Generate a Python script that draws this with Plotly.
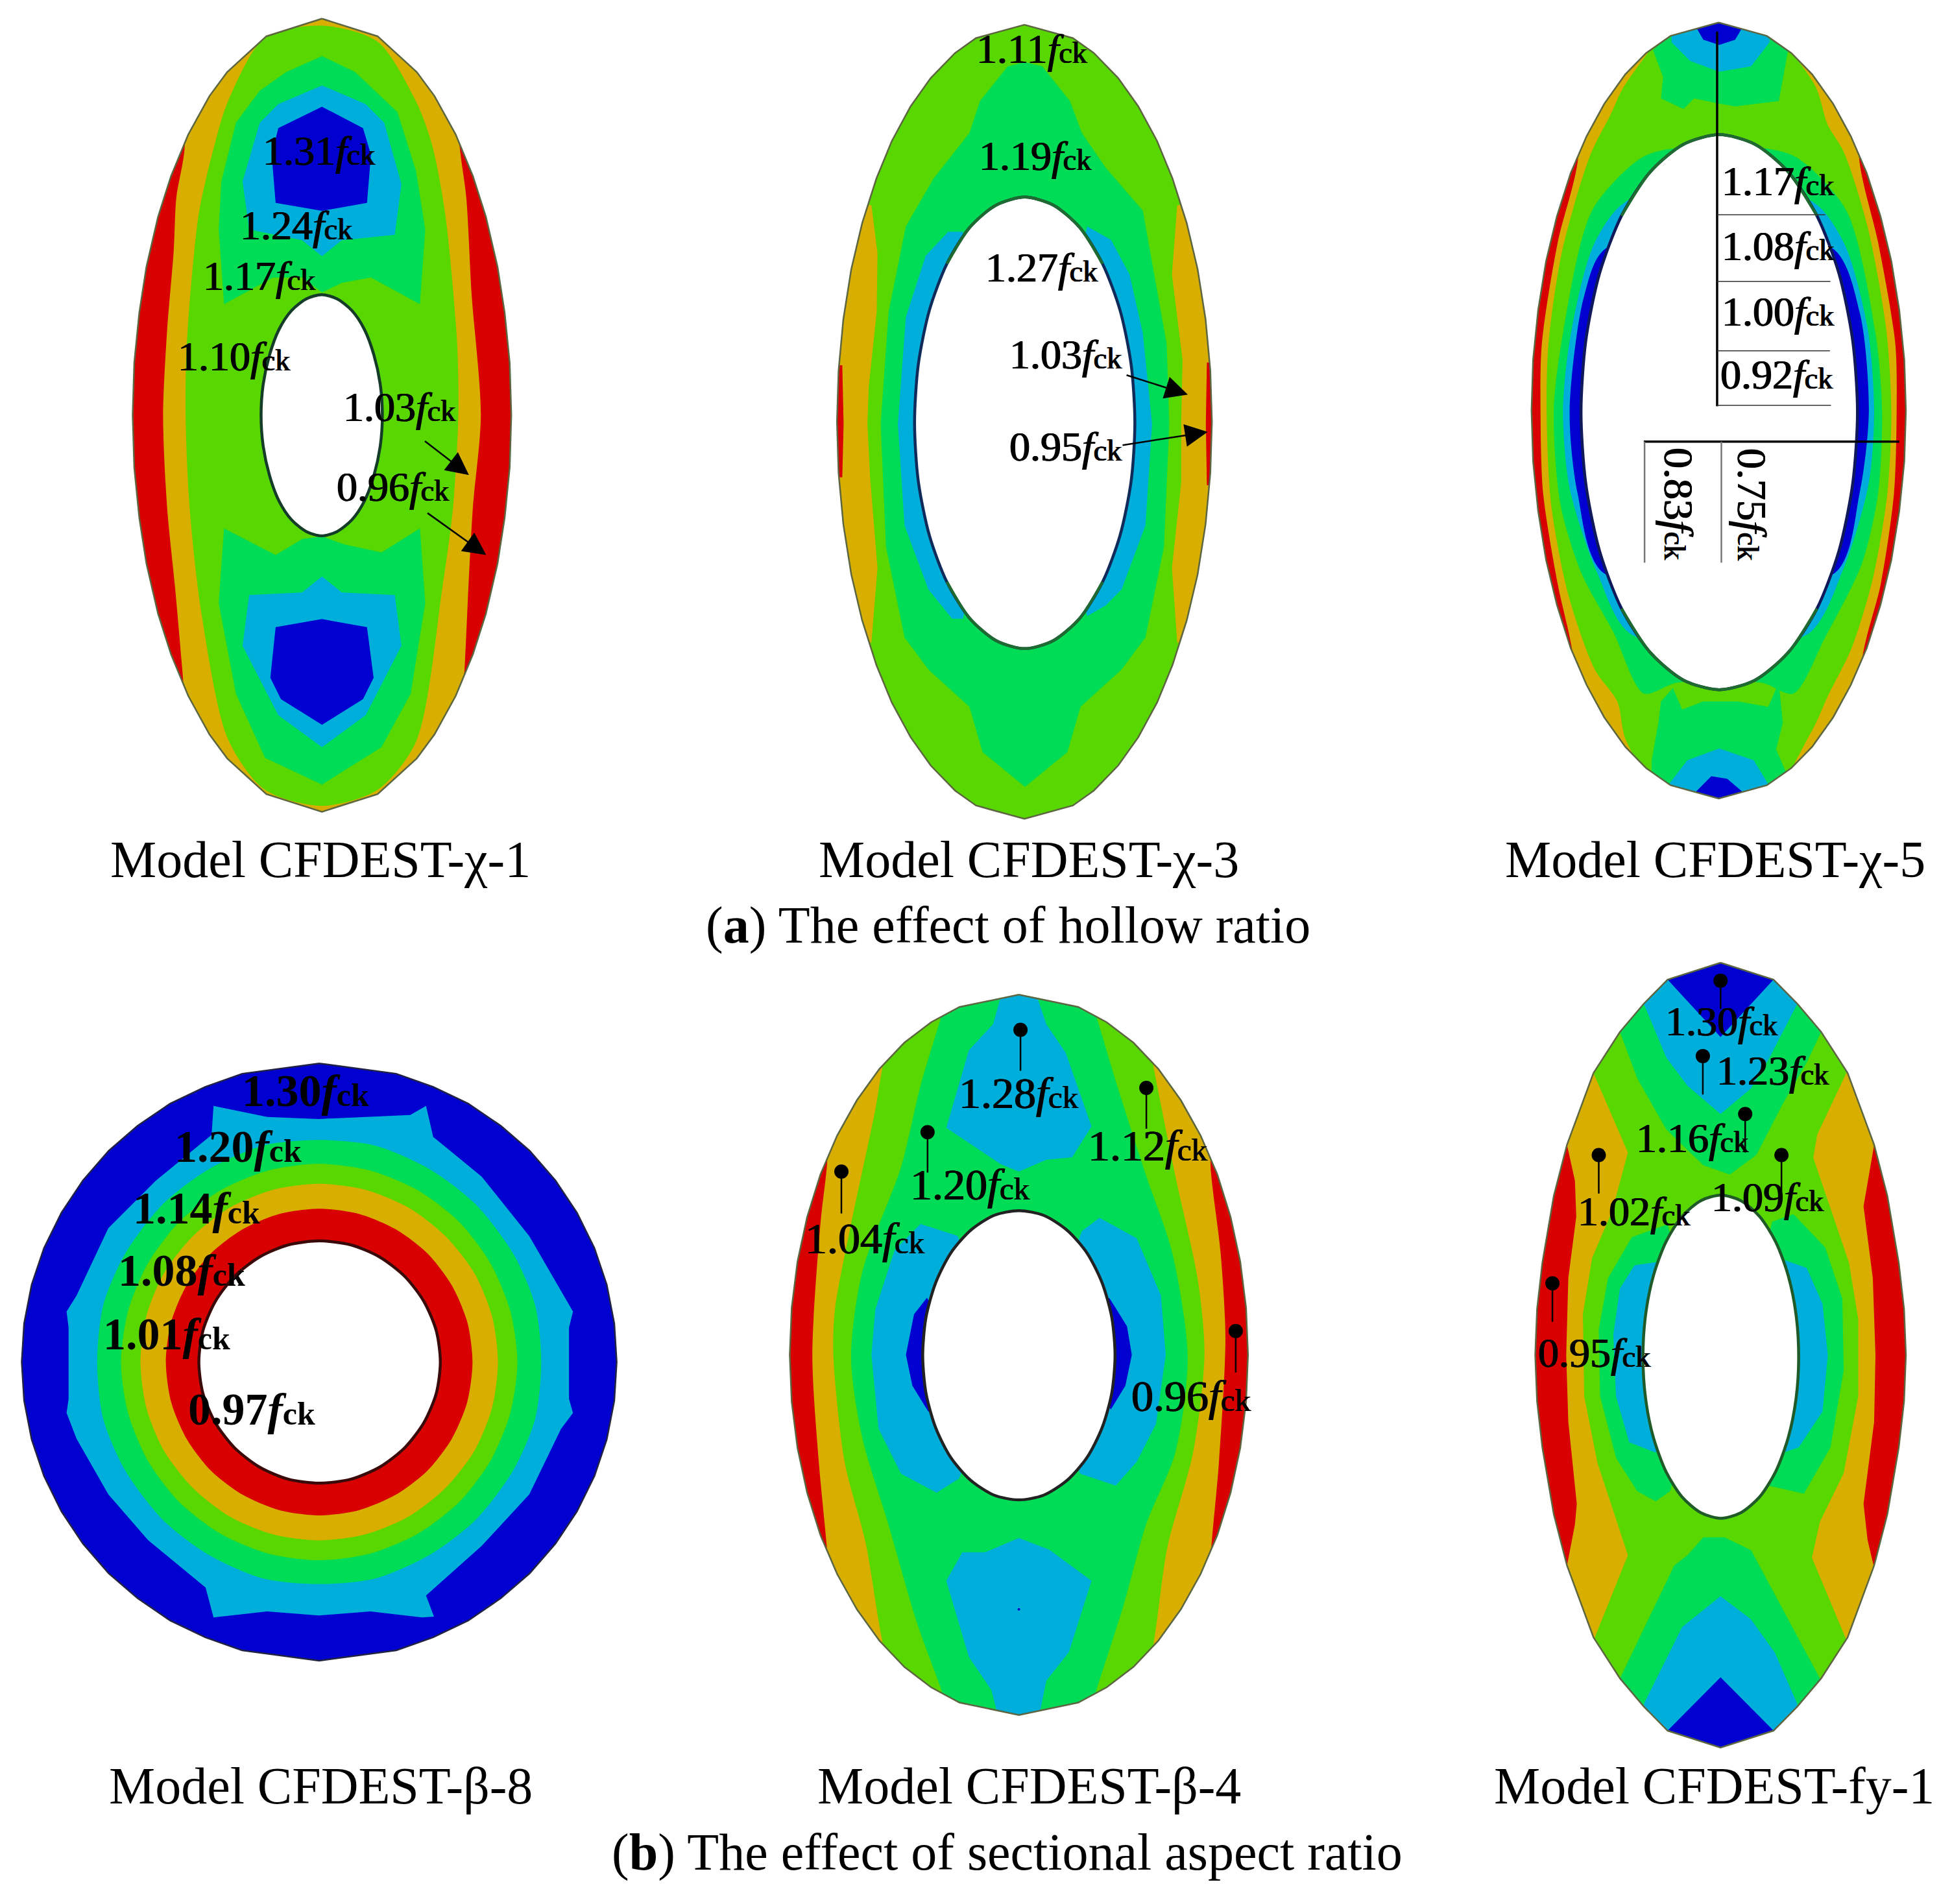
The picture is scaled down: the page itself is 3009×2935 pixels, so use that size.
import plotly.graph_objects as go

W, H = 3009, 2935
FONT = "Liberation Serif"
RED, AMBER, GREEN, G2, BLUE, DEEP = "#D80000", "#D8AE00", "#58D800", "#00DC55", "#00AEDB", "#0000D0"

# ---- panel 1: Model CFDEST-chi-1 (section coordinates)
p1_outer = [(775,35),(985,68),(1133,135),(1200,180),(1280,252),(1345,330),(1394,406),(1438,500),(1465,586),(1484,680),(1490,778)]
p1_hole = [(774,552),(832,560),(888,582),(935,617),(971,665),(995,720),(1003,778)]
p1_amber = [(255,285),(225,370),(215,470),(190,620),(175,778),(190,950),(220,1100),(250,1270),(300,1600),(1250,1600),(1310,1280),(1330,1080),(1345,950),(1375,778),(1340,550),(1320,370),(1295,275),(1250,-50),(300,-50)]
p1_green = [(775,48),(560,70),(420,190),(370,270),(310,400),(265,640),(260,778),(275,950),(320,1150),(420,1385),(560,1480),(775,1510),(985,1480),(1130,1390),(1230,1100),(1270,950),(1290,778),(1285,640),(1240,400),(1190,270),(1130,190),(985,78)]
p1_g2_top = [(775,105),(640,135),(540,170),(450,230),(395,340),(385,430),(405,570),(590,520),(700,520),(775,548),(850,530),(960,520),(1145,570),(1165,430),(1130,320),(1060,210),(900,135)]
p1_g2_bot = [(405,990),(385,1130),(450,1300),(560,1420),(775,1470),(1000,1400),(1110,1300),(1165,1130),(1145,990),(1000,1035),(860,1020),(775,1005),(700,1010),(600,1040)]
p1_blue_top = [(775,160),(610,195),(540,230),(475,340),(500,430),(700,450),(775,480),(850,450),(1050,440),(1075,345),(1010,230),(940,195)]
p1_blue_bot = [(775,1080),(700,1110),(500,1115),(475,1210),(610,1340),(775,1400),(940,1340),(1075,1210),(1050,1115),(850,1110)]
p1_deep_top = [(775,200),(610,240),(585,290),(600,380),(775,395),(945,380),(960,290),(930,240)]
p1_deep_bot = [(775,1160),(600,1175),(580,1270),(620,1310),(775,1358),(930,1310),(970,1270),(945,1175)]
p1_values = ["1.31","1.24","1.17","1.10","1.03","0.96"]
p1_label_x = [555,470,330,235,860,835]
p1_label_y = [285,425,520,670,765,915]

# ---- panel 2: Model CFDEST-chi-3
p2_outer = [(733,22),(916,47),(995,75),(1087,122),(1163,175),(1234,240),(1292,310),(1346,394),(1387,480),(1417,574),(1435,670),(1441,766)]
p2_hole = [(734,345),(842,360),(942,402),(1028,470),(1094,557),(1136,659),(1150,768)]
p2_amber_l = [(-50,360),(155,360),(178,450),(175,560),(145,700),(140,770),(150,870),(178,1040),(155,1180),(-50,1180)]
p2_amber_r = [(1310,360),(1290,490),(1330,650),(1325,770),(1325,880),(1290,1040),(1310,1180),(1600,1180),(1600,360)]
p2_red_l = [(-50,660),(45,660),(50,770),(45,870),(-50,870)]
p2_red_r = [(1422,655),(1418,770),(1422,885),(1600,885),(1600,655)]
p2_g2 = [(735,92),(800,100),(905,165),(950,225),(1040,290),(1180,370),(1270,620),(1280,770),(1260,1000),(1190,1170),(1100,1230),(945,1300),(895,1385),(735,1450),(575,1385),(525,1300),(370,1230),(280,1170),(210,1000),(190,770),(220,560),(285,400),(390,310),(525,225),(565,165),(670,100)]
p2_blue_l = [(500,410),(445,410),(360,455),(285,570),(255,770),(280,960),(370,1080),(460,1135),(500,1135),(700,770)]
p2_blue_r = [(970,400),(1060,425),(1130,490),(1180,600),(1215,770),(1190,960),(1100,1080),(1040,1110),(970,1130),(780,770)]
p2_values = ["1.11","1.19","1.27","1.03","0.95"]
p2_label_x = [555,565,590,680,680]
p2_label_y = [70,270,480,642,815]

# ---- panel 3: Model CFDEST-chi-5
p3_outer = [(758,18),(940,43),(1032,75),(1111,115),(1190,170),(1257,231),(1317,300),(1369,381),(1410,465),(1440,557),(1459,650),(1465,745)]
p3_hole = [(760,228),(895,246),(1021,298),(1129,380),(1212,488),(1264,614),(1282,748)]
p3_amber = [(225,280),(150,430),(90,620),(85,745),(95,900),(150,1070),(210,1210),(260,1600),(1260,1600),(1300,1210),(1370,1070),(1420,900),(1430,745),(1425,620),(1360,430),(1290,280),(1260,-50),(260,-50)]
p3_green = [(410,130),(350,190),(270,270),(165,450),(115,620),(108,745),(125,920),(190,1090),(290,1230),(375,1290),(410,1365),(758,1600),(1110,1345),(1170,1280),(1260,1190),(1340,1060),(1395,900),(1410,745),(1390,590),(1320,400),(1230,260),(1170,210),(1115,130),(758,-50)]
p3_g2_top = [(510,70),(548,120),(540,160),(625,180),(665,160),(760,170),(820,175),(985,165),(1020,70),(758,-50)]
p3_g2_ring = [(615,252),(470,270),(280,370),(170,600),(135,745),(160,920),(240,1050),(360,1160),(475,1275),(600,1255),(920,1255),(1040,1275),(1160,1170),(1300,1030),(1360,900),(1375,745),(1350,600),(1240,370),(1050,270),(905,252)]
p3_g2_bot = [(540,1290),(585,1265),(620,1305),(700,1290),(830,1290),(945,1300),(985,1255),(1000,1330),(975,1380),(1010,1420),(1000,1600),(500,1600),(505,1400),(530,1330)]
p3_blue_top = [(580,35),(580,55),(650,90),(760,110),(880,100),(950,55),(950,20),(760,-50)]
p3_blue_bot = [(570,1445),(640,1400),(760,1378),(890,1400),(945,1445),(900,1600),(600,1600)]
p3_deep_top = [(665,20),(700,50),(760,60),(820,50),(850,25),(760,-20)]
p3_deep_bot = [(670,1460),(730,1430),(790,1435),(850,1460),(760,1600)]
p3_blue_ring = [(420,350),(290,430),(200,600),(170,745),(195,890),(300,1050),(430,1165),(1090,1165),(1230,1040),(1325,880),(1345,745),(1320,590),(1230,430),(1100,350)]
p3_deep_ring = [(335,440),(250,530),(195,745),(225,900),(325,1050),(1195,1050),(1290,900),(1325,745),(1290,560),(1185,440)]
p3_values = ["1.17","1.08","1.00","0.92"]
p3_label_x = [775,775,775,770]
p3_label_y = [318,440,562,680]
p3_rot_values = ["0.83","0.75"]
p3_rot_x = [605,882]
p3_rot_y = [920,920]

# ---- panel 4: Model CFDEST-beta-8
p4_outer = [(771,15),(965,41),(1058,74),(1146,116),(1228,172),(1301,235),(1366,310),(1420,391),(1464,480),(1495,572),(1514,670),(1520,767)]
p4_hole = [(772,462),(851,472),(924,503),(987,552),(1035,615),(1066,689),(1076,767)]
p4_blue = [(505,122),(640,150),(770,155),(900,150),(1000,145),(1040,122),(1058,200),(1180,300),(1300,450),(1410,640),(1400,680),(1400,860),(1410,895),(1380,935),(1300,1100),(1180,1230),(1040,1355),(1060,1408),(1030,1410),(900,1395),(770,1405),(640,1395),(505,1410),(485,1335),(340,1215),(240,1100),(160,960),(135,895),(140,860),(140,680),(135,640),(160,600),(240,430),(360,310),(500,195)]
p4_g2 = [(771,208),(912,222),(1050,282),(1165,370),(1260,495),(1315,625),(1330,767)]
p4_green = [(771,268),(900,285),(1020,335),(1124,415),(1202,518),(1252,638),(1270,767)]
p4_amber = [(771,318),(887,333),(996,378),(1089,450),(1161,542),(1206,651),(1221,767)]
p4_red = [(771,381),(871,394),(964,433),(1044,494),(1105,574),(1144,667),(1157,767)]
p4_values = ["1.30","1.20","1.14","1.08","1.01","0.97"]
p4_label_x = [580,410,305,268,230,445]
p4_label_y = [88,228,383,540,700,890]

# ---- panel 5: Model CFDEST-beta-4
p5_outer = [(745,18),(929,44),(1017,76),(1100,119),(1177,174),(1247,240),(1308,314),(1360,396),(1401,485),(1431,579),(1449,676),(1455,775)]
p5_hole = [(745,472),(822,482),(894,513),(956,561),(1003,624),(1033,697),(1043,776)]
p5_amber = [(150,380),(130,500),(105,775),(125,1000),(150,1180),(200,1600),(1300,1600),(1340,1190),(1365,1000),(1385,740),(1370,560),(1340,390),(1300,-50),(200,-50)]
p5_green = [(320,180),(300,260),(225,500),(175,680),(170,775),(205,1000),(270,1170),(320,1370),(400,1600),(1100,1600),(1165,1370),(1205,1180),(1285,980),(1320,775),(1300,620),(1230,400),(1165,180),(1100,-50),(400,-50)]
p5_g2 = [(500,75),(440,210),(380,380),(260,600),(225,780),(260,950),(340,1130),(430,1340),(505,1480),(560,1600),(930,1600),(985,1480),(1070,1300),(1140,1130),(1230,980),(1268,780),(1220,560),(1140,400),(1050,210),(990,75),(930,-50),(560,-50)]
p5_blue_top = [(690,20),(665,80),(590,135),(520,298),(690,375),(745,390),(830,365),(910,360),(970,295),(890,140),(830,80),(800,20),(745,-20)]
p5_blue_bot = [(745,1160),(640,1190),(570,1190),(520,1250),(590,1410),(660,1480),(690,1560),(800,1560),(830,1460),(900,1400),(970,1250),(840,1185)]
p5_blue_l = [(440,500),(360,555),(300,680),(288,775),(310,930),(380,1025),(490,1065),(560,1035),(700,776),(555,525)]
p5_blue_r = [(995,487),(1110,530),(1185,650),(1200,775),(1170,920),(1110,1000),(1045,1050),(935,1025),(800,776),(940,515)]
p5_deep_l = [(460,655),(420,690),(395,775),(415,840),(465,895),(560,776)]
p5_deep_r = [(1025,655),(1080,715),(1095,775),(1075,840),(1030,890),(930,776)]
p5_dots_x = [745,745]
p5_dots_y = [240,1310]
p5_values = ["1.28","1.12","1.20","1.04","0.96"]
p5_label_x = [565,965,415,88,1100]
p5_label_y = [228,338,420,533,865]
p5_pin_x = [750,1140,462,195,1417]
p5_pin_y = [92,214,307,390,725]
p5_pin_end = [178,300,392,478,812]

# ---- panel 6: Model CFDEST-fy-1
p6_outer = [(765,5),(965,38),(1055,85),(1145,140),(1245,220),(1345,360),(1395,460),(1438,590),(1458,680),(1465,770)]
p6_hole = [(766,458),(842,469),(913,500),(974,550),(1021,616),(1050,691),(1060,773)]
p6_amber = [(185,360),(215,430),(220,500),(190,620),(182,770),(190,900),(222,1060),(215,1100),(185,1180),(100,1600),(1430,1600),(1345,1185),(1320,1130),(1305,1060),(1345,900),(1350,770),(1340,620),(1305,480),(1345,360),(1430,-50),(100,-50)]
p6_green = [(285,220),(415,375),(355,490),(280,580),(245,690),(250,850),(300,980),(415,1160),(290,1320),(300,1600),(1240,1600),(1240,1325),(1110,1165),(1140,1095),(1230,1000),(1285,850),(1285,700),(1250,590),(1115,385),(1130,340),(1240,220),(1240,-50),(285,-50)]
p6_g2_top = [(385,140),(450,230),(560,330),(700,400),(800,418),(900,380),(1000,280),(1090,200),(1145,140),(1100,-50),(400,-50)]
p6_g2_l = [(565,515),(430,540),(340,620),(305,720),(310,850),(370,970),(450,1035),(520,1055),(575,1035),(700,773)]
p6_g2_r = [(960,510),(1040,495),(1160,560),(1225,660),(1230,800),(1180,950),(1080,1040),(950,1025),(830,773)]
p6_g2_bot = [(640,1160),(700,1125),(780,1125),(880,1150),(1140,1400),(1050,1600),(480,1600),(385,1400),(590,1180)]
p6_blue_top = [(475,85),(560,190),(640,245),(765,300),(880,250),(950,190),(1055,85),(1000,-50),(530,-50)]
p6_blue_bot = [(475,1450),(620,1300),(765,1240),(880,1285),(970,1350),(1055,1450),(1000,1600),(530,1600)]
p6_deep_top = [(565,38),(765,150),(965,38),(765,-20)]
p6_deep_bot = [(565,1502),(765,1398),(965,1502),(765,1600)]
p6_blue_l = [(570,585),(440,595),(385,640),(360,730),(370,850),(420,940),(520,960),(700,773)]
p6_blue_r = [(1010,585),(1090,600),(1150,670),(1170,770),(1150,880),(1060,950),(1000,960),(830,773)]
p6_values = ["1.30","1.23","1.16","1.09","1.02","0.95"]
p6_label_x = [560,755,450,735,230,80]
p6_label_y = [122,218,350,465,492,768]
p6_pin_x = [765,698,858,995,305,130]
p6_pin_y = [40,187,300,380,380,630]
p6_pin_end = [95,262,375,450,455,705]

# ---- captions
model_names = ["Model CFDEST-χ-1","Model CFDEST-χ-3","Model CFDEST-χ-5","Model CFDEST-β-8","Model CFDEST-β-4","Model CFDEST-fy-1"]
model_x = [494,1586,2644,494,1586,2642]
model_y = [1325,1325,1325,2753,2753,2753]
sub_captions = ["(<b>a</b>) The effect of hollow ratio","(<b>b</b>) The effect of sectional aspect ratio"]
sub_x = [1554,1552]
sub_y = [1427,2855]

# crop rectangle of each panel in the picture (left, top, width, height)
RECTS = [(180,0,640,1290),(1280,20,640,1290),(2340,20,640,1290),(20,1630,960,960),(1200,1520,780,1150),(2340,1480,640,1240)]
U = 1568
HEAVY = "0.7px 0 0 #000, -0.7px 0 0 #000"

def ring(q):
    """Close a quarter outline (top -> right) into the whole section, clockwise."""
    cx, cy = q[0][0], q[-1][1]
    pts = list(q)
    pts += [(x, 2*cy-y) for x, y in reversed(q[:-1])]
    pts += [(2*cx-x, 2*cy-y) for x, y in q[1:]]
    pts += [(2*cx-x, y) for x, y in reversed(q[1:-1])]
    return pts

fig = go.Figure()
layout = dict(width=W, height=H, margin=dict(l=0,r=0,t=0,b=0), plot_bgcolor="white", paper_bgcolor="white", showlegend=False)
for i, (l, t, w, h) in enumerate(RECTS):
    s = "" if i == 0 else str(i+1)
    layout["xaxis"+s] = dict(domain=[l/W,(l+w)/W], range=[0,U], visible=False, anchor="y"+s, fixedrange=True)
    layout["yaxis"+s] = dict(domain=[1-(t+h)/H,1-t/H], range=[U,0], visible=False, anchor="x"+s, fixedrange=True)
fig.update_layout(**layout)

def refs(p):
    return ("x" if p == 0 else f"x{p+1}", "y" if p == 0 else f"y{p+1}")

def poly(p, pts, color, smooth=False):
    xr, yr = refs(p)
    pts = list(pts) + [pts[0]]
    ln = dict(width=0, color=color)
    if smooth:
        ln.update(shape="spline", smoothing=0.8)
    fig.add_trace(go.Scatter(x=[a for a,_ in pts], y=[b for _,b in pts], mode="lines", fill="toself", fillcolor=color,
                             line=ln, hoverinfo="skip", xaxis=xr, yaxis=yr))

def line(p, xs, ys, color="black", width=3, smooth=False):
    xr, yr = refs(p)
    ln = dict(color=color, width=width)
    if smooth:
        ln.update(shape="spline", smoothing=0.8)
    fig.add_trace(go.Scatter(x=xs, y=ys, mode="lines", line=ln, hoverinfo="skip", xaxis=xr, yaxis=yr))

def finish(p, outer, hole, hole_line, outline="#5c6640", accent=None):
    xr, yr = refs(p)
    o = ring(outer)
    o = o + [o[0]]
    m = 60
    rx = [-m, U+m, U+m, -m, -m]
    ry = [-m, -m, U+m, U+m, -m]
    fig.add_trace(go.Scatter(x=rx+[None]+[a for a,_ in reversed(o)], y=ry+[None]+[b for _,b in reversed(o)], mode="lines",
                             fill="toself", fillcolor="white", line=dict(width=0, color="white"),
                             hoverinfo="skip", xaxis=xr, yaxis=yr))
    line(p, [a for a,_ in o], [b for _,b in o], outline, 2.5)
    hl = ring(hole)
    hc = hl + [hl[0]]
    fig.add_trace(go.Scatter(x=[a for a,_ in hc], y=[b for _,b in hc], mode="lines", fill="toself", fillcolor="white",
                             line=dict(width=4.5, color=hole_line, shape="spline", smoothing=0.8), hoverinfo="skip", xaxis=xr, yaxis=yr))
    if accent:
        n = len(hl)
        top = [hl[k % n] for k in range(-3, 4)]
        bot = [hl[k] for k in range(n//2-3, n//2+4)]
        for arc in (top, bot):
            line(p, [a for a,_ in arc], [b for _,b in arc], accent, 4.5, True)

def fck(v, size):
    return f"{v}<i>f</i><span style=\"font-size:{round(size*0.72)}px\">ck</span>"

def labels(p, values, xs, ys, size, bold=False, shift=-4):
    xr, yr = refs(p)
    for v, x, y in zip(values, xs, ys):
        txt = fck(v, size)
        if bold:
            txt = f"<b>{txt}</b>"
        fig.add_annotation(x=x, y=y, xref=xr, yref=yr, text=txt, showarrow=False, xanchor="left", yanchor="middle", xshift=shift, yshift=2,
                           font=dict(family=FONT, size=size, color="black", shadow="none" if bold else HEAVY))

def pins(p, xs, ys, ends):
    xr, yr = refs(p)
    for x, y, e in zip(xs, ys, ends):
        line(p, [x, x], [y, e], "black", 2.5)
    fig.add_trace(go.Scatter(x=xs, y=ys, mode="markers", marker=dict(size=22, color="black"), hoverinfo="skip", xaxis=xr, yaxis=yr))

def arrow(p, tail, tip):
    xr, yr = refs(p)
    fig.add_annotation(x=tip[0], y=tip[1], ax=tail[0], ay=tail[1], xref=xr, yref=yr, axref=xr, ayref=yr, text="", showarrow=True,
                       arrowhead=2, arrowsize=2.8, arrowwidth=2.5, arrowcolor="black", standoff=0)

# panel 1
poly(0, [(-50,-50),(U+50,-50),(U+50,U+50),(-50,U+50)], RED)
poly(0, p1_amber, AMBER, True); poly(0, p1_green, GREEN, True)
poly(0, p1_g2_top, G2); poly(0, p1_g2_bot, G2)
poly(0, p1_blue_top, BLUE); poly(0, p1_blue_bot, BLUE)
poly(0, p1_deep_top, DEEP); poly(0, p1_deep_bot, DEEP)
finish(0, p1_outer, p1_hole, "#143c28")
labels(0, p1_values, p1_label_x, p1_label_y, 64)
arrow(0, (1160,825), (1330,890)); arrow(0, (1170,960), (1395,1040))

# panel 2
poly(1, [(-50,-50),(U+50,-50),(U+50,U+50),(-50,U+50)], GREEN)
poly(1, p2_amber_l, AMBER); poly(1, p2_amber_r, AMBER)
poly(1, p2_red_l, RED); poly(1, p2_red_r, RED)
poly(1, p2_g2, G2)
poly(1, p2_blue_l, BLUE); poly(1, p2_blue_r, BLUE)
finish(1, p2_outer, p2_hole, "#102a5a", accent="#1f6a30")
labels(1, p2_values, p2_label_x, p2_label_y, 64)
arrow(1, (1115,678), (1350,715)); arrow(1, (1100,810), (1425,785))

# panel 3
poly(2, [(-50,-50),(U+50,-50),(U+50,U+50),(-50,U+50)], RED)
poly(2, p3_amber, AMBER, True); poly(2, p3_green, GREEN, True)
poly(2, p3_g2_top, G2); poly(2, p3_g2_ring, G2, True); poly(2, p3_g2_bot, G2)
poly(2, p3_blue_top, BLUE); poly(2, p3_blue_bot, BLUE); poly(2, p3_blue_ring, BLUE, True)
poly(2, p3_deep_top, DEEP); poly(2, p3_deep_bot, DEEP); poly(2, p3_deep_ring, DEEP, True)
finish(2, p3_outer, p3_hole, "#101a5a", accent="#1f6a30")
line(2, [752,752], [35,737], "black", 3.5)
line(2, [475,1440], [803,803], "black", 3.5)
for yy, xe in zip([378,503,633,735], [1160,1180,1178,1182]):
    line(2, [752,xe], [yy,yy], "#333333", 1.6)
for xx in [478,768]:
    line(2, [xx,xx], [803,1030], "#777777", 2.5)
labels(2, p3_values, p3_label_x, p3_label_y, 64)
for v, x, y in zip(p3_rot_values, p3_rot_x, p3_rot_y):
    fig.add_annotation(x=x, y=y, xref="x3", yref="y3", text=fck(v, 64), showarrow=False, textangle=90,
                       font=dict(family=FONT, size=64, color="black", shadow=HEAVY))

# panel 4
poly(3, [(-50,-50),(U+50,-50),(U+50,U+50),(-50,U+50)], DEEP)
poly(3, p4_blue, BLUE); poly(3, ring(p4_g2), G2, True); poly(3, ring(p4_green), GREEN, True)
poly(3, ring(p4_amber), AMBER, True); poly(3, ring(p4_red), RED, True)
finish(3, p4_outer, p4_hole, "#3a0a0a", "#222244")
labels(3, p4_values, p4_label_x, p4_label_y, 70, True)

# panel 5
poly(4, [(-50,-50),(U+50,-50),(U+50,U+50),(-50,U+50)], RED)
poly(4, p5_amber, AMBER, True); poly(4, p5_green, GREEN, True); poly(4, p5_g2, G2, True)
poly(4, p5_blue_top, BLUE); poly(4, p5_blue_bot, BLUE); poly(4, p5_blue_l, BLUE); poly(4, p5_blue_r, BLUE)
poly(4, p5_deep_l, DEEP); poly(4, p5_deep_r, DEEP)
fig.add_trace(go.Scatter(x=p5_dots_x, y=p5_dots_y, mode="markers", marker=dict(size=4, color=DEEP), hoverinfo="skip", xaxis="x5", yaxis="y5"))
finish(4, p5_outer, p5_hole, "#222222")
pins(4, p5_pin_x, p5_pin_y, p5_pin_end)
labels(4, p5_values, p5_label_x, p5_label_y, 68, shift=-5)

# panel 6
poly(5, [(-50,-50),(U+50,-50),(U+50,U+50),(-50,U+50)], RED)
poly(5, p6_amber, AMBER); poly(5, p6_green, GREEN)
poly(5, p6_g2_top, G2); poly(5, p6_g2_l, G2); poly(5, p6_g2_r, G2); poly(5, p6_g2_bot, G2)
poly(5, p6_blue_top, BLUE); poly(5, p6_blue_bot, BLUE); poly(5, p6_blue_l, BLUE); poly(5, p6_blue_r, BLUE)
poly(5, p6_deep_top, DEEP); poly(5, p6_deep_bot, DEEP)
finish(5, p6_outer, p6_hole, "#1f5a28")
pins(5, p6_pin_x, p6_pin_y, p6_pin_end)
labels(5, p6_values, p6_label_x, p6_label_y, 64)

# captions
for t, x, y in zip(model_names, model_x, model_y):
    fig.add_annotation(x=x/W, y=1-y/H, xref="paper", yref="paper", text=t, showarrow=False, xanchor="center", yanchor="middle",
                       font=dict(family=FONT, size=80, color="black"))
for t, x, y in zip(sub_captions, sub_x, sub_y):
    fig.add_annotation(x=x/W, y=1-y/H, xref="paper", yref="paper", text=t, showarrow=False, xanchor="center", yanchor="middle",
                       font=dict(family=FONT, size=80, color="black"))

fig.write_html("out.html", config=dict(displayModeBar=False),
               post_script="document.body.style.margin='0';document.body.style.overflow='hidden';")
